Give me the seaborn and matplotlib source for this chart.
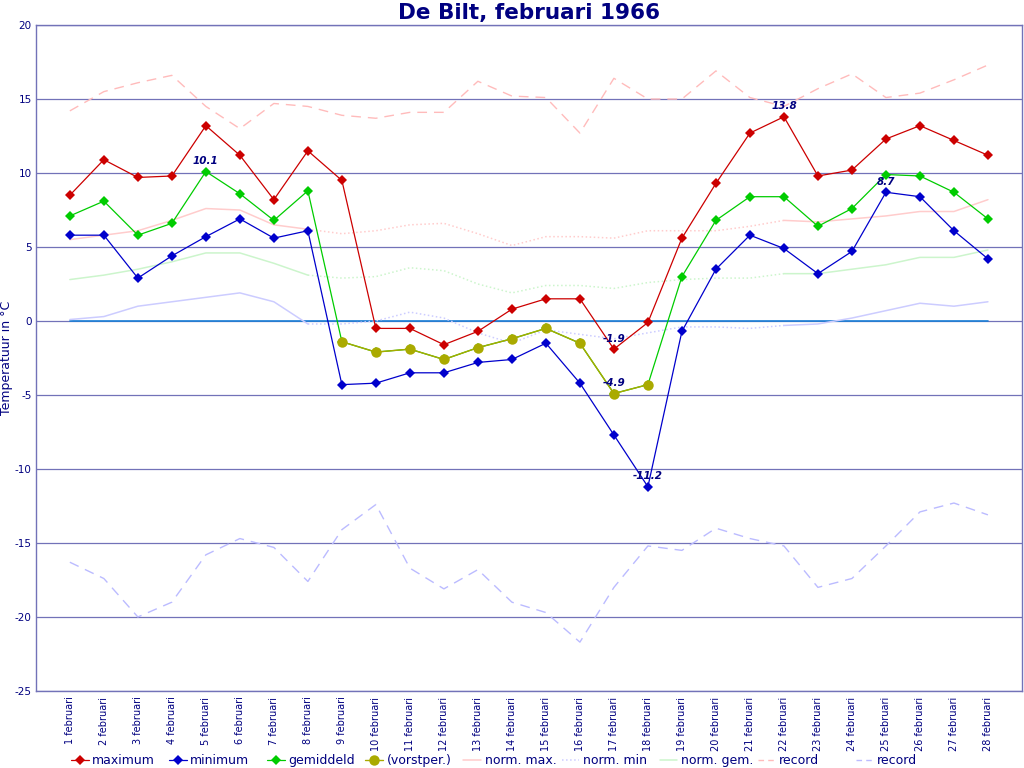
import pandas as pd
import seaborn as sns
import matplotlib
matplotlib.use("Agg")
import matplotlib.pyplot as plt
from matplotlib.lines import Line2D

# Daily values, De Bilt, februari 1966
days = list(range(1, 29))
day_labels = [f"{d} februari" for d in days]

maximum = [8.5, 10.9, 9.7, 9.8, 13.2, 11.2, 8.2, 11.5, 9.5, -0.5,
           -0.5, -1.6, -0.7, 0.8, 1.5, 1.5, -1.9, -0.1, 5.6, 9.3,
           12.7, 13.8, 9.8, 10.2, 12.3, 13.2, 12.2, 11.2]
minimum = [5.8, 5.8, 2.9, 4.4, 5.7, 6.9, 5.6, 6.1, -4.3, -4.2,
           -3.5, -3.5, -2.8, -2.6, -1.5, -4.2, -7.7, -11.2, -0.7, 3.5,
           5.8, 4.9, 3.2, 4.7, 8.7, 8.4, 6.1, 4.2]
gemiddeld = [7.1, 8.1, 5.8, 6.6, 10.1, 8.6, 6.8, 8.8, -1.4, -2.1,
             -1.9, -2.6, -1.8, -1.2, -0.5, -1.5, -4.9, -4.3, 3.0, 6.8,
             8.4, 8.4, 6.4, 7.6, 9.9, 9.8, 8.7, 6.9]
# frost period: days 9 to 18
vorst_days = list(range(9, 19))
vorst_values = [-1.4, -2.1, -1.9, -2.6, -1.8, -1.2, -0.5, -1.5, -4.9, -4.3]

norm_max = [5.5, 5.8, 6.1, 6.8, 7.6, 7.5, 6.5, 6.2, 5.9, 6.1,
            6.5, 6.6, 5.9, 5.1, 5.7, 5.7, 5.6, 6.1, 6.1, 6.1,
            6.4, 6.8, 6.7, 6.9, 7.1, 7.4, 7.4, 8.2]
norm_min = [0.1, 0.3, 1.0, 1.3, 1.6, 1.9, 1.3, -0.2, -0.2, 0.0,
            0.6, 0.2, -0.8, -1.5, -0.6, -0.9, -1.2, -0.8, -0.4, -0.4,
            -0.5, -0.3, -0.2, 0.2, 0.7, 1.2, 1.0, 1.3]
norm_gem = [2.8, 3.1, 3.5, 4.0, 4.6, 4.6, 3.9, 3.1, 2.9, 3.0,
            3.6, 3.4, 2.5, 1.9, 2.4, 2.4, 2.2, 2.6, 2.8, 2.9,
            2.9, 3.2, 3.2, 3.5, 3.8, 4.3, 4.3, 4.8]
record_max = [14.2, 15.5, 16.1, 16.6, 14.5, 13.0, 14.7, 14.5, 13.9, 13.7,
              14.1, 14.1, 16.2, 15.2, 15.1, 12.7, 16.4, 15.0, 15.0, 16.9,
              15.1, 14.5, 15.7, 16.7, 15.1, 15.4, 16.3, 17.3]
record_min = [-16.3, -17.4, -20.0, -19.0, -15.8, -14.7, -15.3, -17.6, -14.1, -12.4,
              -16.7, -18.1, -16.8, -19.0, -19.7, -21.7, -18.0, -15.2, -15.5, -14.0,
              -14.7, -15.2, -18.0, -17.4, -15.2, -12.9, -12.3, -13.1]

# extremes that get a value label: (day, value)
notes = [(5, 10.1), (22, 13.8), (25, 8.7), (17, -1.9), (17, -4.9), (18, -11.2)]

df = pd.DataFrame({"dag": days, "maximum": maximum, "minimum": minimum,
                   "gemiddeld": gemiddeld, "norm_max": norm_max,
                   "norm_min": norm_min, "norm_gem": norm_gem,
                   "record_max": record_max, "record_min": record_min})

sns.set_style("white")
plt.rcParams["font.family"] = ["DejaVu Sans"]

navy = "#000080"
grid_c = "#7272b8"
c_max, c_min, c_gem, c_vorst = "#cc0000", "#0000cc", "#00cc00", "#aaaa00"
c_nmax, c_nmin, c_ngem = "#ffcccc", "#ccccff", "#ccf5cc"
c_rmax, c_rmin = "#ffbbbb", "#bbbbff"
dash = (0, (7, 5))

fig = plt.figure(figsize=(10.24, 7.68), dpi=100)
ax = fig.add_axes([0.035, 0.1003, 0.963, 0.8671])

# horizontal grid
for yv in range(-25, 21, 5):
    ax.axhline(yv, color=grid_c, lw=0.9, zorder=0)

# zero line across the days
sns.lineplot(x=days, y=[0] * len(days), ax=ax, color="#1a7fd6", lw=1.2, zorder=1)

# normal lines: solid at the ends, dotted through the middle
first = df[df.dag <= 8]
middle = df[(df.dag >= 8) & (df.dag <= 22)]
last = df[df.dag >= 22]
for col, c in [("norm_max", c_nmax), ("norm_min", c_nmin), ("norm_gem", c_ngem)]:
    for part, ls in [(first, "-"), (middle, ":"), (last, "-")]:
        sns.lineplot(data=part, x="dag", y=col, ax=ax, color=c, lw=1.1,
                     linestyle=ls, zorder=2)

sns.lineplot(data=df, x="dag", y="record_max", ax=ax, color=c_rmax, lw=1.0,
             linestyle=dash, zorder=2)
sns.lineplot(data=df, x="dag", y="record_min", ax=ax, color=c_rmin, lw=1.0,
             linestyle=dash, zorder=2)

# measured series
sns.lineplot(data=df, x="dag", y="gemiddeld", ax=ax, color=c_gem, lw=0.9,
             marker="D", markersize=5.5, markeredgewidth=0, zorder=4)
sns.lineplot(x=vorst_days, y=vorst_values, ax=ax, color=c_vorst, lw=1.0,
             marker="o", markersize=7.5, markeredgewidth=0, zorder=5)
sns.lineplot(data=df, x="dag", y="maximum", ax=ax, color=c_max, lw=0.9,
             marker="D", markersize=5.5, markeredgewidth=0, zorder=4)
sns.lineplot(data=df, x="dag", y="minimum", ax=ax, color=c_min, lw=0.9,
             marker="D", markersize=5.5, markeredgewidth=0, zorder=4)

for d, v in notes:
    ax.annotate(f"{v:.1f}", (d, v), xytext=(0, 4), textcoords="offset points",
                ha="center", va="bottom", fontsize=7.5, fontstyle="italic",
                fontweight="bold", color=navy, zorder=6)

ax.set_xlim(0, 29)
ax.set_ylim(-25, 20)
ax.set_xticks(days)
ax.set_xticklabels(day_labels, rotation=90, fontsize=7, color=navy)
ax.set_yticks(range(-25, 21, 5))
ax.set_yticklabels([str(v) for v in range(-25, 21, 5)], fontsize=7.5, color=navy)
ax.tick_params(axis="x", length=3, color=grid_c, pad=1)
ax.tick_params(axis="y", length=0, pad=3)
for s in ax.spines.values():
    s.set_color(grid_c)
    s.set_linewidth(1.0)
ax.set_xlabel("")
ax.set_ylabel("Temperatuur in °C", fontsize=9, color=navy)
ax.yaxis.set_label_coords(-0.0235, 0.5)
ax.set_title("De Bilt, februari 1966", fontsize=15.5, fontweight="bold",
             color=navy, pad=4)

# legend: one fixed-width slot per entry along the bottom
entries = [
    Line2D([], [], color=c_max, marker="D", markersize=5.5, markeredgewidth=0, lw=0.9, label="maximum"),
    Line2D([], [], color=c_min, marker="D", markersize=5.5, markeredgewidth=0, lw=0.9, label="minimum"),
    Line2D([], [], color=c_gem, marker="D", markersize=5.5, markeredgewidth=0, lw=0.9, label="gemiddeld"),
    Line2D([], [], color=c_vorst, marker="o", markersize=7.5, markeredgewidth=0, lw=1.0, label="(vorstper.)"),
    Line2D([], [], color=c_nmax, lw=1.1, label="norm. max."),
    Line2D([], [], color=c_nmin, lw=1.1, linestyle=":", label="norm. min"),
    Line2D([], [], color=c_ngem, lw=1.1, label="norm. gem."),
    Line2D([], [], color=c_rmax, lw=1.0, linestyle=(0, (4, 3)), label="record"),
    Line2D([], [], color=c_rmin, lw=1.0, linestyle=(0, (4, 3)), label="record"),
]
for i, h in enumerate(entries):
    lg = fig.legend(handles=[h], loc="lower left",
                    bbox_to_anchor=((71 + 98.1 * i) / 1024, 1 / 768),
                    frameon=False, fontsize=9, handlelength=1.4,
                    handletextpad=0.3, borderpad=0, borderaxespad=0)
    for t in lg.get_texts():
        t.set_color(navy)

fig.savefig("out.png", dpi=100)
